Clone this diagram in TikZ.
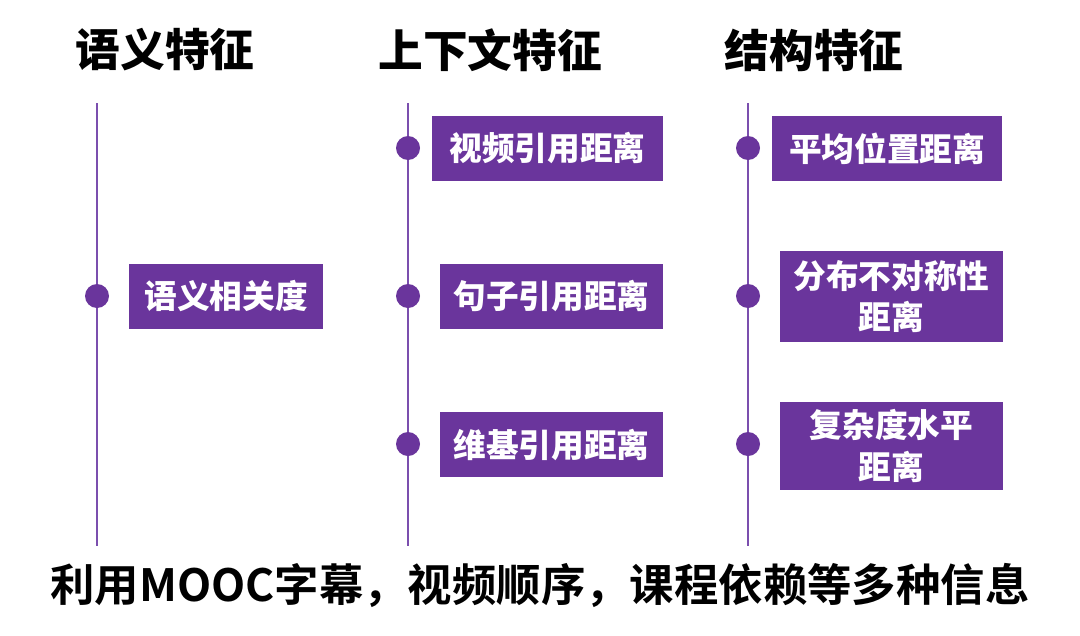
\documentclass[tikz,border=0pt]{standalone}
\usepackage{fontspec}
\setmainfont{Noto Sans CJK SC}[BoldFont={Noto Sans CJK SC Bold}]
\newfontfamily\heavyfont{Noto Sans CJK SC Black}
\definecolor{boxpurple}{HTML}{6A359C}
\definecolor{linepurple}{HTML}{7B4FAE}
\tikzset{
  head/.style={font=\fontsize{33.5pt}{38pt}\heavyfont, text=black, inner sep=0pt},
  featbox/.style={fill=boxpurple, draw=none, inner sep=0pt, text=white, align=center,
    font=\fontsize{24.5pt}{31pt}\heavyfont},
  tdot/.style={circle, fill=boxpurple, draw=none, minimum size=18pt, inner sep=0pt},
  tline/.style={draw=linepurple, line width=2.2pt},
  foot/.style={font=\fontsize{33.3pt}{38pt}\selectfont\bfseries, text=black, inner sep=0pt}
}
\begin{document}
\begin{tikzpicture}[x=0.75pt,y=-0.75pt]
\useasboundingbox (0,0) rectangle (1080,635);
% headings
\node[head] (h1) at (165,50) {语义特征};
\node[head] (h2) at (490,50) {上下文特征};
\node[head] (h3) at (814,50) {结构特征};
% timeline ends
\coordinate (t1) at (97,103);  \coordinate (b1) at (97,546);
\coordinate (t2) at (408,103); \coordinate (b2) at (408,546);
\coordinate (t3) at (748,103); \coordinate (b3) at (748,546);
\draw[tline] (t1) -- (b1);
\draw[tline] (t2) -- (b2);
\draw[tline] (t3) -- (b3);
% dots
\node[tdot] (d11) at (97,296) {};
\node[tdot] (d21) at (408,148) {};
\node[tdot] (d22) at (408,296) {};
\node[tdot] (d23) at (408,444) {};
\node[tdot] (d31) at (748,148) {};
\node[tdot] (d32) at (748,296) {};
\node[tdot] (d33) at (748,444) {};
% boxes
\node[featbox, minimum width=145.5pt, minimum height=48.75pt] (s1) at (226,296.5) {语义相关度};
\node[featbox, minimum width=173.25pt, minimum height=48.75pt] (c1) at (547.5,148.5) {视频引用距离};
\node[featbox, minimum width=167.25pt, minimum height=48.75pt] (c2) at (551.5,296.5) {句子引用距离};
\node[featbox, minimum width=167.25pt, minimum height=48.75pt] (c3) at (551.5,444.5) {维基引用距离};
\node[featbox, minimum width=172.5pt, minimum height=48.75pt] (r1) at (887,148.5) {平均位置距离};
\node[featbox, minimum width=167.25pt, minimum height=68.25pt] (r2) at (891.5,296.5) {分布不对称性\\距离};
\node[featbox, minimum width=167.25pt, minimum height=66pt] (r3) at (891.5,446) {复杂度水平\\距离};
% footer
\node[foot] (f) at (540,585) {利用MOOC字幕，视频顺序，课程依赖等多种信息};
\end{tikzpicture}
\end{document}
